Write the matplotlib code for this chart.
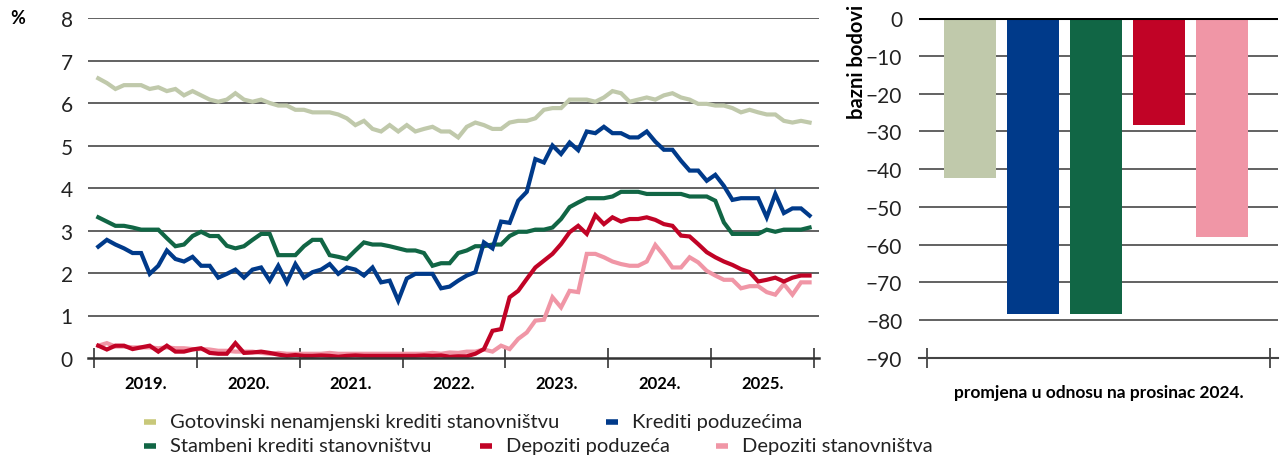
import numpy as np
import matplotlib
matplotlib.use("Agg")
import matplotlib.pyplot as plt
from matplotlib.lines import Line2D

plt.rcParams['font.family'] = ['Lato', 'DejaVu Sans']

# monthly data, Jan 2019 .. Dec 2025
gotovinski = [6.58, 6.47, 6.33, 6.42, 6.42, 6.42, 6.33, 6.37, 6.28, 6.33, 6.18, 6.28,
              6.18, 6.08, 6.03, 6.08, 6.23, 6.08, 6.03, 6.08, 6.00, 5.94, 5.94, 5.84,
              5.84, 5.78, 5.78, 5.78, 5.73, 5.64, 5.48, 5.58, 5.39, 5.33, 5.48, 5.33,
              5.48, 5.33, 5.39, 5.44, 5.33, 5.33, 5.19, 5.44, 5.54, 5.48, 5.39, 5.39,
              5.54, 5.58, 5.58, 5.64, 5.84, 5.88, 5.88, 6.08, 6.08, 6.08, 6.03, 6.13,
              6.28, 6.23, 6.03, 6.08, 6.13, 6.08, 6.18, 6.23, 6.13, 6.08, 5.98, 5.98,
              5.94, 5.94, 5.88, 5.78, 5.84, 5.78, 5.73, 5.73, 5.58, 5.54, 5.58, 5.54]
stambeni = [3.31, 3.21, 3.11, 3.11, 3.07, 3.02, 3.02, 3.02, 2.82, 2.63, 2.67, 2.87,
            2.97, 2.87, 2.87, 2.64, 2.58, 2.63, 2.78, 2.92, 2.92, 2.42, 2.42, 2.42,
            2.63, 2.78, 2.78, 2.42, 2.38, 2.33, 2.53, 2.72, 2.67, 2.67, 2.63, 2.58,
            2.53, 2.53, 2.47, 2.17, 2.23, 2.23, 2.47, 2.53, 2.63, 2.63, 2.67, 2.67,
            2.87, 2.97, 2.97, 3.02, 3.02, 3.07, 3.27, 3.55, 3.66, 3.76, 3.76, 3.76,
            3.80, 3.91, 3.91, 3.91, 3.86, 3.86, 3.86, 3.86, 3.86, 3.80, 3.80, 3.80,
            3.70, 3.19, 2.92, 2.92, 2.92, 2.92, 3.02, 2.97, 3.02, 3.02, 3.02, 3.07]
krediti_pod = [2.62, 2.78, 2.67, 2.58, 2.47, 2.47, 1.98, 2.17, 2.53, 2.33, 2.27, 2.38,
               2.17, 2.17, 1.89, 1.98, 2.08, 1.89, 2.08, 2.13, 1.82, 2.17, 1.78, 2.21,
               1.89, 2.02, 2.08, 2.21, 1.98, 2.13, 2.08, 1.94, 2.13, 1.78, 1.82, 1.35,
               1.87, 1.98, 1.98, 1.98, 1.64, 1.68, 1.82, 1.94, 2.02, 2.72, 2.58, 3.21,
               3.18, 3.70, 3.91, 4.68, 4.60, 5.00, 4.80, 5.07, 4.89, 5.33, 5.29, 5.44,
               5.29, 5.29, 5.19, 5.19, 5.33, 5.09, 4.90, 4.90, 4.64, 4.41, 4.41, 4.17,
               4.31, 4.05, 3.72, 3.76, 3.76, 3.76, 3.31, 3.86, 3.41, 3.52, 3.52, 3.35]
depoziti_pod = [0.29, 0.20, 0.29, 0.29, 0.21, 0.25, 0.29, 0.15, 0.29, 0.15, 0.15, 0.20,
                0.23, 0.12, 0.10, 0.10, 0.35, 0.12, 0.13, 0.15, 0.12, 0.08, 0.05, 0.07,
                0.05, 0.05, 0.06, 0.05, 0.03, 0.05, 0.06, 0.05, 0.05, 0.05, 0.05, 0.05,
                0.05, 0.05, 0.06, 0.05, 0.06, 0.03, 0.04, 0.04, 0.10, 0.21, 0.64, 0.68,
                1.43, 1.58, 1.86, 2.13, 2.29, 2.45, 2.68, 2.96, 3.11, 2.92, 3.36, 3.15,
                3.31, 3.21, 3.27, 3.27, 3.31, 3.25, 3.15, 3.11, 2.88, 2.86, 2.68, 2.49,
                2.37, 2.27, 2.19, 2.09, 2.02, 1.80, 1.84, 1.89, 1.80, 1.89, 1.94, 1.94]
depoziti_stan = [0.29, 0.35, 0.27, 0.27, 0.25, 0.25, 0.25, 0.23, 0.25, 0.23, 0.23, 0.21,
                 0.21, 0.20, 0.17, 0.17, 0.15, 0.15, 0.15, 0.12, 0.10, 0.12, 0.10, 0.10,
                 0.10, 0.10, 0.10, 0.12, 0.10, 0.10, 0.10, 0.10, 0.10, 0.10, 0.10, 0.10,
                 0.10, 0.10, 0.10, 0.12, 0.10, 0.13, 0.12, 0.15, 0.15, 0.20, 0.15, 0.29,
                 0.21, 0.45, 0.60, 0.88, 0.90, 1.43, 1.19, 1.58, 1.55, 2.45, 2.45, 2.37,
                 2.27, 2.21, 2.17, 2.17, 2.27, 2.66, 2.41, 2.13, 2.13, 2.37, 2.25, 2.05,
                 1.94, 1.84, 1.84, 1.64, 1.69, 1.69, 1.55, 1.49, 1.74, 1.49, 1.78, 1.78]

years = ['2019.', '2020.', '2021.', '2022.', '2023.', '2024.', '2025.']

# change vs December 2024, basis points
bar_values = [-42.3, -78.3, -78.3, -28.3, -57.9]

names = ['Gotovinski nenamjenski krediti stanovništvu', 'Krediti poduzećima',
         'Stambeni krediti stanovništvu', 'Depoziti poduzeća', 'Depoziti stanovništva']
c_got = '#C0C9AB'
c_kre = '#003A8A'
c_sta = '#116645'
c_dpo = '#C10326'
c_dst = '#F096A6'

fig = plt.figure(figsize=(12.81, 4.6), dpi=100)

# ---- left: interest rates ----
ax = fig.add_axes([88 / 1281, 1 - 359 / 460, 731 / 1281, 340 / 460])
x = np.arange(len(gotovinski)) + 0.5
lw = 3.0
ax.plot(x, gotovinski, color=c_got, lw=lw, solid_joinstyle='miter')
ax.plot(x, stambeni, color=c_sta, lw=lw, solid_joinstyle='miter')
ax.plot(x, krediti_pod, color=c_kre, lw=lw, solid_joinstyle='miter')
ax.plot(x, depoziti_stan, color=c_dst, lw=lw, solid_joinstyle='miter')
ax.plot(x, depoziti_pod, color=c_dpo, lw=lw, solid_joinstyle='miter')

ax.set_ylim(0, 8)
ax.set_xlim(-0.7, 84.6)
ax.set_yticks(range(0, 9))
for v in range(1, 9):
    ax.axhline(v, color='#555555', lw=1.3, zorder=0)
ax.set_xticks(range(0, 85, 12))
ax.set_xticklabels([])
ax.set_xticks(np.arange(6, 84, 12), minor=True)
ax.set_xticklabels(years, minor=True, fontsize=12, fontweight='bold')
ax.tick_params(axis='x', which='major', direction='inout', length=14, width=1.3, color='#444444')
ax.tick_params(axis='x', which='minor', length=0, pad=12)
ax.tick_params(axis='y', length=0, pad=11, labelsize=15, labelcolor='#222222')
for s in ['top', 'right', 'left']:
    ax.spines[s].set_visible(False)
ax.spines['bottom'].set_color('#333333')
ax.spines['bottom'].set_linewidth(1.8)
fig.text(18 / 1281, 1 - 19 / 460, '%', fontsize=13, fontweight='bold', ha='center', va='center')

# ---- right: bars ----
ax2 = fig.add_axes([919 / 1281, 1 - 359 / 460, 359 / 1281, 340 / 460])
ax2.bar(range(5), bar_values, width=0.825, color=[c_got, c_kre, c_sta, c_dpo, c_dst], zorder=2)
ax2.set_ylim(-90, 0)
ax2.set_xlim(-0.81, 4.89)
ax2.set_yticks(range(-90, 1, 10))
ax2.set_yticklabels([('\u2212' + str(-v) if v < 0 else '0') for v in range(-90, 1, 10)])
for v in range(-80, 0, 10):
    ax2.axhline(v, color='#555555', lw=1.3, zorder=1)
ax2.axhline(0, color='black', lw=2.2, zorder=3)
ax2.set_xticks([-0.68, 4.76])
ax2.set_xticklabels([])
ax2.tick_params(axis='x', direction='inout', length=14, width=1.3, color='#444444')
ax2.tick_params(axis='y', length=0, pad=12, labelsize=15, labelcolor='#222222')
for s in ['top', 'right', 'left']:
    ax2.spines[s].set_visible(False)
ax2.spines['bottom'].set_color('#444444')
ax2.spines['bottom'].set_linewidth(1.5)
ax2.set_xlabel('promjena u odnosu na prosinac 2024.', fontsize=12.5, fontweight='bold', labelpad=8)
fig.text(857 / 1281, 1 - 5 / 460, 'bazni bodovi', rotation=90, fontsize=14.5,
         fontweight='bold', ha='center', va='top')

# ---- legend ----
leg_items = [
    (names[0], '#C8C87A', 150, 423),
    (names[1], c_kre, 612, 423),
    (names[2], c_sta, 150, 447),
    (names[3], c_dpo, 486, 447),
    (names[4], c_dst, 722, 447),
]
for label, col, px, py in leg_items:
    fx, fy = px / 1281, 1 - py / 460
    fig.add_artist(Line2D([fx - 6 / 1281, fx + 6 / 1281], [fy, fy], color=col, lw=4,
                          solid_capstyle='butt', transform=fig.transFigure))
    fig.text(fx + 20 / 1281, fy, label, fontsize=14.5, va='center', ha='left', color='#222222')

fig.savefig('out.png', dpi=100)
